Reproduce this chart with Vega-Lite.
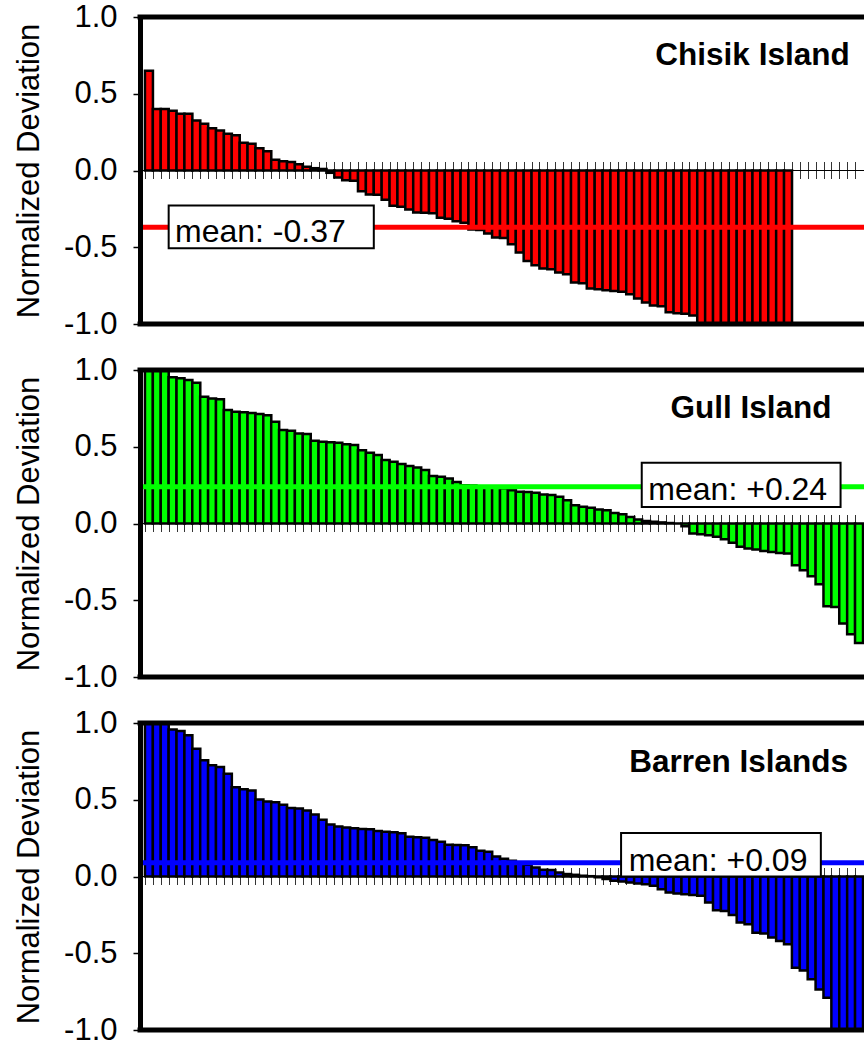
{
  "$schema": "https://vega.github.io/schema/vega-lite/v6.json",
  "background": "white",
  "padding": {"left": 13, "top": 1, "right": 0, "bottom": 0},
  "bounds": "flush",
  "spacing": 46,
  "config": {
    "font": "Liberation Sans",
    "view": {"stroke": null},
    "axisX": {"offset": -162.5, "labels": false, "domain": false, "grid": false, "ticks": true, "tickSize": 17, "tickColor": "#333333", "tickWidth": 1, "tickCount": 200, "title": null}
  },
  "datasets": {
    "chisik": [
      {"i":1,"v":0.65},{"i":2,"v":0.40},{"i":3,"v":0.40},{"i":4,"v":0.39},{"i":5,"v":0.37},{"i":6,"v":0.37},{"i":7,"v":0.325},{"i":8,"v":0.305},{"i":9,"v":0.275},{"i":10,"v":0.26},
      {"i":11,"v":0.24},{"i":12,"v":0.23},{"i":13,"v":0.18},{"i":14,"v":0.175},{"i":15,"v":0.145},{"i":16,"v":0.125},{"i":17,"v":0.07},{"i":18,"v":0.06},{"i":19,"v":0.055},{"i":20,"v":0.04},
      {"i":21,"v":0.025},{"i":22,"v":0.015},{"i":23,"v":0.01},{"i":24,"v":-0.015},{"i":25,"v":-0.045},{"i":26,"v":-0.063},{"i":27,"v":-0.066},{"i":28,"v":-0.135},{"i":29,"v":-0.156},{"i":30,"v":-0.158},
      {"i":31,"v":-0.19},{"i":32,"v":-0.23},{"i":33,"v":-0.236},{"i":34,"v":-0.254},{"i":35,"v":-0.273},{"i":36,"v":-0.275},{"i":37,"v":-0.278},{"i":38,"v":-0.308},{"i":39,"v":-0.314},{"i":40,"v":-0.33},
      {"i":41,"v":-0.34},{"i":42,"v":-0.384},{"i":43,"v":-0.388},{"i":44,"v":-0.41},{"i":45,"v":-0.436},{"i":46,"v":-0.44},{"i":47,"v":-0.481},{"i":48,"v":-0.535},{"i":49,"v":-0.59},{"i":50,"v":-0.618},
      {"i":51,"v":-0.639},{"i":52,"v":-0.643},{"i":53,"v":-0.665},{"i":54,"v":-0.676},{"i":55,"v":-0.73},{"i":56,"v":-0.735},{"i":57,"v":-0.769},{"i":58,"v":-0.773},{"i":59,"v":-0.78},{"i":60,"v":-0.785},
      {"i":61,"v":-0.79},{"i":62,"v":-0.806},{"i":63,"v":-0.834},{"i":64,"v":-0.86},{"i":65,"v":-0.88},{"i":66,"v":-0.885},{"i":67,"v":-0.924},{"i":68,"v":-0.93},{"i":69,"v":-0.934},{"i":70,"v":-0.945},
      {"i":71,"v":-1.0},{"i":72,"v":-1.0},{"i":73,"v":-1.0},{"i":74,"v":-1.0},{"i":75,"v":-1.0},{"i":76,"v":-1.0},{"i":77,"v":-1.0},{"i":78,"v":-1.0},{"i":79,"v":-1.0},{"i":80,"v":-1.0},
      {"i":81,"v":-1.0},{"i":82,"v":-1.0}
    ],
    "gull": [
      {"i":1,"v":1.0},{"i":2,"v":1.0},{"i":3,"v":1.0},{"i":4,"v":0.952},{"i":5,"v":0.946},{"i":6,"v":0.935},{"i":7,"v":0.917},{"i":8,"v":0.826},{"i":9,"v":0.815},{"i":10,"v":0.809},
      {"i":11,"v":0.739},{"i":12,"v":0.728},{"i":13,"v":0.724},{"i":14,"v":0.72},{"i":15,"v":0.713},{"i":16,"v":0.706},{"i":17,"v":0.663},{"i":18,"v":0.609},{"i":19,"v":0.604},{"i":20,"v":0.587},
      {"i":21,"v":0.583},{"i":22,"v":0.539},{"i":23,"v":0.532},{"i":24,"v":0.53},{"i":25,"v":0.526},{"i":26,"v":0.517},{"i":27,"v":0.511},{"i":28,"v":0.478},{"i":29,"v":0.461},{"i":30,"v":0.446},
      {"i":31,"v":0.413},{"i":32,"v":0.402},{"i":33,"v":0.387},{"i":34,"v":0.374},{"i":35,"v":0.365},{"i":36,"v":0.348},{"i":37,"v":0.309},{"i":38,"v":0.304},{"i":39,"v":0.293},{"i":40,"v":0.27},
      {"i":41,"v":0.25},{"i":42,"v":0.247},{"i":43,"v":0.243},{"i":44,"v":0.238},{"i":45,"v":0.234},{"i":46,"v":0.23},{"i":47,"v":0.217},{"i":48,"v":0.207},{"i":49,"v":0.205},{"i":50,"v":0.2},
      {"i":51,"v":0.189},{"i":52,"v":0.185},{"i":53,"v":0.174},{"i":54,"v":0.152},{"i":55,"v":0.119},{"i":56,"v":0.109},{"i":57,"v":0.102},{"i":58,"v":0.091},{"i":59,"v":0.087},{"i":60,"v":0.069},
      {"i":61,"v":0.06},{"i":62,"v":0.043},{"i":63,"v":0.026},{"i":64,"v":0.017},{"i":65,"v":0.011},{"i":66,"v":0.007},{"i":67,"v":0.003},{"i":68,"v":0.0},{"i":69,"v":-0.018},{"i":70,"v":-0.065},
      {"i":71,"v":-0.07},{"i":72,"v":-0.076},{"i":73,"v":-0.087},{"i":74,"v":-0.102},{"i":75,"v":-0.126},{"i":76,"v":-0.152},{"i":77,"v":-0.163},{"i":78,"v":-0.17},{"i":79,"v":-0.179},{"i":80,"v":-0.185},
      {"i":81,"v":-0.192},{"i":82,"v":-0.196},{"i":83,"v":-0.272},{"i":84,"v":-0.305},{"i":85,"v":-0.344},{"i":86,"v":-0.396},{"i":87,"v":-0.539},{"i":88,"v":-0.544},{"i":89,"v":-0.652},{"i":90,"v":-0.722},
      {"i":91,"v":-0.779}
    ],
    "barren": [
      {"i":1,"v":1.0},{"i":2,"v":1.0},{"i":3,"v":1.0},{"i":4,"v":0.957},{"i":5,"v":0.948},{"i":6,"v":0.92},{"i":7,"v":0.833},{"i":8,"v":0.757},{"i":9,"v":0.724},{"i":10,"v":0.713},
      {"i":11,"v":0.669},{"i":12,"v":0.582},{"i":13,"v":0.569},{"i":14,"v":0.56},{"i":15,"v":0.501},{"i":16,"v":0.488},{"i":17,"v":0.484},{"i":18,"v":0.467},{"i":19,"v":0.447},{"i":20,"v":0.443},
      {"i":21,"v":0.43},{"i":22,"v":0.404},{"i":23,"v":0.369},{"i":24,"v":0.338},{"i":25,"v":0.325},{"i":26,"v":0.32},{"i":27,"v":0.314},{"i":28,"v":0.31},{"i":29,"v":0.308},{"i":30,"v":0.296},
      {"i":31,"v":0.292},{"i":32,"v":0.288},{"i":33,"v":0.281},{"i":34,"v":0.259},{"i":35,"v":0.255},{"i":36,"v":0.253},{"i":37,"v":0.238},{"i":38,"v":0.227},{"i":39,"v":0.207},{"i":40,"v":0.205},
      {"i":41,"v":0.204},{"i":42,"v":0.19},{"i":43,"v":0.168},{"i":44,"v":0.161},{"i":45,"v":0.131},{"i":46,"v":0.116},{"i":47,"v":0.103},{"i":48,"v":0.085},{"i":49,"v":0.076},{"i":50,"v":0.059},
      {"i":51,"v":0.044},{"i":52,"v":0.042},{"i":53,"v":0.026},{"i":54,"v":0.016},{"i":55,"v":0.011},{"i":56,"v":0.005},{"i":57,"v":0.002},{"i":58,"v":-0.005},{"i":59,"v":-0.017},{"i":60,"v":-0.028},
      {"i":61,"v":-0.033},{"i":62,"v":-0.039},{"i":63,"v":-0.046},{"i":64,"v":-0.05},{"i":65,"v":-0.061},{"i":66,"v":-0.083},{"i":67,"v":-0.104},{"i":68,"v":-0.111},{"i":69,"v":-0.115},{"i":70,"v":-0.12},
      {"i":71,"v":-0.126},{"i":72,"v":-0.17},{"i":73,"v":-0.22},{"i":74,"v":-0.224},{"i":75,"v":-0.25},{"i":76,"v":-0.3},{"i":77,"v":-0.311},{"i":78,"v":-0.366},{"i":79,"v":-0.372},{"i":80,"v":-0.398},
      {"i":81,"v":-0.42},{"i":82,"v":-0.442},{"i":83,"v":-0.595},{"i":84,"v":-0.612},{"i":85,"v":-0.67},{"i":86,"v":-0.736},{"i":87,"v":-0.79},{"i":88,"v":-1.0},{"i":89,"v":-1.0},{"i":90,"v":-1.0},
      {"i":91,"v":-1.0}
    ]
  },
  "vconcat": [
    {
      "width": 726, "height": 307,
      "layer": [
        {"data": {"values": [{}]}, "mark": {"type": "rule", "color": "black", "strokeWidth": 1}, "encoding": {"y": {"datum": 0, "type": "quantitative", "scale": {"domain": [-1, 1], "nice": false, "zero": false}}}},
        {"data": {"name": "chisik"}, "mark": {"type": "bar", "width": 8, "color": "#ff0000", "stroke": "black", "strokeWidth": 2.5, "clip": true},
         "encoding": {
           "x": {"field": "i", "type": "quantitative", "scale": {"domain": [0.5, 91.25], "nice": false, "zero": false},
                 "axis": {"title": null, "tickCount": 200, "values": [0.5,1.5,2.5,3.5,4.5,5.5,6.5,7.5,8.5,9.5,10.5,11.5,12.5,13.5,14.5,15.5,16.5,17.5,18.5,19.5,20.5,21.5,22.5,23.5,24.5,25.5,26.5,27.5,28.5,29.5,30.5,31.5,32.5,33.5,34.5,35.5,36.5,37.5,38.5,39.5,40.5,41.5,42.5,43.5,44.5,45.5,46.5,47.5,48.5,49.5,50.5,51.5,52.5,53.5,54.5,55.5,56.5,57.5,58.5,59.5,60.5,61.5,62.5,63.5,64.5,65.5,66.5,67.5,68.5,69.5,70.5,71.5,72.5,73.5,74.5,75.5,76.5,77.5,78.5,79.5,80.5,81.5,82.5,83.5,84.5,85.5,86.5,87.5,88.5,89.5,90.5]}},
           "y": {"field": "v", "type": "quantitative", "scale": {"domain": [-1, 1], "nice": false, "zero": false},
                 "axis": {"title": "Normalized Deviation", "values": [-1, -0.5, 0, 0.5, 1], "labelExpr": "replace(format(datum.value, '.1f'), '\u2212', '-')", "labelFontSize": 31, "labelColor": "black", "titleFontSize": 31, "titleFontWeight": "normal", "titleColor": "black", "tickColor": "black", "tickSize": 7, "tickWidth": 1.5, "domainColor": "black", "domainWidth": 5, "labelPadding": 16, "titlePadding": 18, "grid": false, "zindex": 1}}
         }},
        {"data": {"values": [{}]}, "mark": {"type": "rule", "color": "#ff0000", "strokeWidth": 5}, "encoding": {"y": {"datum": -0.37, "type": "quantitative"}}},
        {"data": {"values": [{}]}, "mark": {"type": "rect", "fill": "white", "stroke": "black", "strokeWidth": 2}, "encoding": {"x": {"datum": 3.5, "type": "quantitative"}, "x2": {"datum": 29.5}, "y": {"datum": -0.228, "type": "quantitative"}, "y2": {"datum": -0.507}}},
        {"data": {"values": [{}]}, "mark": {"type": "text", "align": "left", "baseline": "alphabetic", "fontSize": 32, "color": "black"}, "encoding": {"x": {"datum": 4.3, "type": "quantitative"}, "y": {"datum": -0.468, "type": "quantitative"}, "text": {"value": "mean: -0.37"}}},
        {"data": {"values": [{}]}, "mark": {"type": "text", "align": "center", "baseline": "alphabetic", "fontSize": 31.5, "fontWeight": "bold", "color": "black"}, "encoding": {"x": {"datum": 77.5, "type": "quantitative"}, "y": {"datum": 0.689, "type": "quantitative"}, "text": {"value": "Chisik Island"}}},
        {"data": {"values": [{}]}, "mark": {"type": "rule", "color": "black", "strokeWidth": 5, "strokeCap": "square"}, "encoding": {"y": {"datum": 1, "type": "quantitative"}}},
        {"data": {"values": [{}]}, "mark": {"type": "rule", "color": "black", "strokeWidth": 5, "strokeCap": "square"}, "encoding": {"y": {"datum": -1, "type": "quantitative"}}}
      ]
    },
    {
      "width": 726, "height": 307,
      "layer": [
        {"data": {"values": [{}]}, "mark": {"type": "rule", "color": "black", "strokeWidth": 1}, "encoding": {"y": {"datum": 0, "type": "quantitative", "scale": {"domain": [-1, 1], "nice": false, "zero": false}}}},
        {"data": {"name": "gull"}, "mark": {"type": "bar", "width": 8, "color": "#00ff00", "stroke": "black", "strokeWidth": 2.5, "clip": true},
         "encoding": {
           "x": {"field": "i", "type": "quantitative", "scale": {"domain": [0.5, 91.25], "nice": false, "zero": false},
                 "axis": {"title": null, "tickCount": 200, "values": [0.5,1.5,2.5,3.5,4.5,5.5,6.5,7.5,8.5,9.5,10.5,11.5,12.5,13.5,14.5,15.5,16.5,17.5,18.5,19.5,20.5,21.5,22.5,23.5,24.5,25.5,26.5,27.5,28.5,29.5,30.5,31.5,32.5,33.5,34.5,35.5,36.5,37.5,38.5,39.5,40.5,41.5,42.5,43.5,44.5,45.5,46.5,47.5,48.5,49.5,50.5,51.5,52.5,53.5,54.5,55.5,56.5,57.5,58.5,59.5,60.5,61.5,62.5,63.5,64.5,65.5,66.5,67.5,68.5,69.5,70.5,71.5,72.5,73.5,74.5,75.5,76.5,77.5,78.5,79.5,80.5,81.5,82.5,83.5,84.5,85.5,86.5,87.5,88.5,89.5,90.5]}},
           "y": {"field": "v", "type": "quantitative", "scale": {"domain": [-1, 1], "nice": false, "zero": false},
                 "axis": {"title": "Normalized Deviation", "values": [-1, -0.5, 0, 0.5, 1], "labelExpr": "replace(format(datum.value, '.1f'), '\u2212', '-')", "labelFontSize": 31, "labelColor": "black", "titleFontSize": 31, "titleFontWeight": "normal", "titleColor": "black", "tickColor": "black", "tickSize": 7, "tickWidth": 1.5, "domainColor": "black", "domainWidth": 5, "labelPadding": 16, "titlePadding": 18, "grid": false, "zindex": 1}}
         }},
        {"data": {"values": [{}]}, "mark": {"type": "rule", "color": "#00ff00", "strokeWidth": 5}, "encoding": {"y": {"datum": 0.24, "type": "quantitative"}}},
        {"data": {"values": [{}]}, "mark": {"type": "rect", "fill": "white", "stroke": "black", "strokeWidth": 2}, "encoding": {"x": {"datum": 63.46, "type": "quantitative"}, "x2": {"datum": 88.66}, "y": {"datum": 0.395, "type": "quantitative"}, "y2": {"datum": 0.108}}},
        {"data": {"values": [{}]}, "mark": {"type": "text", "align": "left", "baseline": "alphabetic", "fontSize": 32, "color": "black"}, "encoding": {"x": {"datum": 64.3, "type": "quantitative"}, "y": {"datum": 0.152, "type": "quantitative"}, "text": {"value": "mean: +0.24"}}},
        {"data": {"values": [{}]}, "mark": {"type": "text", "align": "center", "baseline": "alphabetic", "fontSize": 31.5, "fontWeight": "bold", "color": "black"}, "encoding": {"x": {"datum": 77.3, "type": "quantitative"}, "y": {"datum": 0.685, "type": "quantitative"}, "text": {"value": "Gull Island"}}},
        {"data": {"values": [{}]}, "mark": {"type": "rule", "color": "black", "strokeWidth": 5, "strokeCap": "square"}, "encoding": {"y": {"datum": 1, "type": "quantitative"}}},
        {"data": {"values": [{}]}, "mark": {"type": "rule", "color": "black", "strokeWidth": 5, "strokeCap": "square"}, "encoding": {"y": {"datum": -1, "type": "quantitative"}}}
      ]
    },
    {
      "width": 726, "height": 307,
      "layer": [
        {"data": {"values": [{}]}, "mark": {"type": "rule", "color": "black", "strokeWidth": 1}, "encoding": {"y": {"datum": 0, "type": "quantitative", "scale": {"domain": [-1, 1], "nice": false, "zero": false}}}},
        {"data": {"name": "barren"}, "mark": {"type": "bar", "width": 8, "color": "#0000ff", "stroke": "black", "strokeWidth": 2.5, "clip": true},
         "encoding": {
           "x": {"field": "i", "type": "quantitative", "scale": {"domain": [0.5, 91.25], "nice": false, "zero": false},
                 "axis": {"title": null, "tickCount": 200, "values": [0.5,1.5,2.5,3.5,4.5,5.5,6.5,7.5,8.5,9.5,10.5,11.5,12.5,13.5,14.5,15.5,16.5,17.5,18.5,19.5,20.5,21.5,22.5,23.5,24.5,25.5,26.5,27.5,28.5,29.5,30.5,31.5,32.5,33.5,34.5,35.5,36.5,37.5,38.5,39.5,40.5,41.5,42.5,43.5,44.5,45.5,46.5,47.5,48.5,49.5,50.5,51.5,52.5,53.5,54.5,55.5,56.5,57.5,58.5,59.5,60.5,61.5,62.5,63.5,64.5,65.5,66.5,67.5,68.5,69.5,70.5,71.5,72.5,73.5,74.5,75.5,76.5,77.5,78.5,79.5,80.5,81.5,82.5,83.5,84.5,85.5,86.5,87.5,88.5,89.5,90.5]}},
           "y": {"field": "v", "type": "quantitative", "scale": {"domain": [-1, 1], "nice": false, "zero": false},
                 "axis": {"title": "Normalized Deviation", "values": [-1, -0.5, 0, 0.5, 1], "labelExpr": "replace(format(datum.value, '.1f'), '\u2212', '-')", "labelFontSize": 31, "labelColor": "black", "titleFontSize": 31, "titleFontWeight": "normal", "titleColor": "black", "tickColor": "black", "tickSize": 7, "tickWidth": 1.5, "domainColor": "black", "domainWidth": 5, "labelPadding": 16, "titlePadding": 18, "grid": false, "zindex": 1}}
         }},
        {"data": {"values": [{}]}, "mark": {"type": "rule", "color": "#0000ff", "strokeWidth": 5}, "encoding": {"y": {"datum": 0.09, "type": "quantitative"}}},
        {"data": {"values": [{}]}, "mark": {"type": "rect", "fill": "white", "stroke": "black", "strokeWidth": 2}, "encoding": {"x": {"datum": 60.84, "type": "quantitative"}, "x2": {"datum": 86.16}, "y": {"datum": 0.284, "type": "quantitative"}, "y2": {"datum": 0.0}}},
        {"data": {"values": [{}]}, "mark": {"type": "text", "align": "left", "baseline": "alphabetic", "fontSize": 32, "color": "black"}, "encoding": {"x": {"datum": 61.8, "type": "quantitative"}, "y": {"datum": 0.037, "type": "quantitative"}, "text": {"value": "mean: +0.09"}}},
        {"data": {"values": [{}]}, "mark": {"type": "text", "align": "center", "baseline": "alphabetic", "fontSize": 31.5, "fontWeight": "bold", "color": "black"}, "encoding": {"x": {"datum": 75.75, "type": "quantitative"}, "y": {"datum": 0.68, "type": "quantitative"}, "text": {"value": "Barren Islands"}}},
        {"data": {"values": [{}]}, "mark": {"type": "rule", "color": "black", "strokeWidth": 5, "strokeCap": "square"}, "encoding": {"y": {"datum": 1, "type": "quantitative"}}},
        {"data": {"values": [{}]}, "mark": {"type": "rule", "color": "black", "strokeWidth": 5, "strokeCap": "square"}, "encoding": {"y": {"datum": -1, "type": "quantitative"}}}
      ]
    }
  ]
}
